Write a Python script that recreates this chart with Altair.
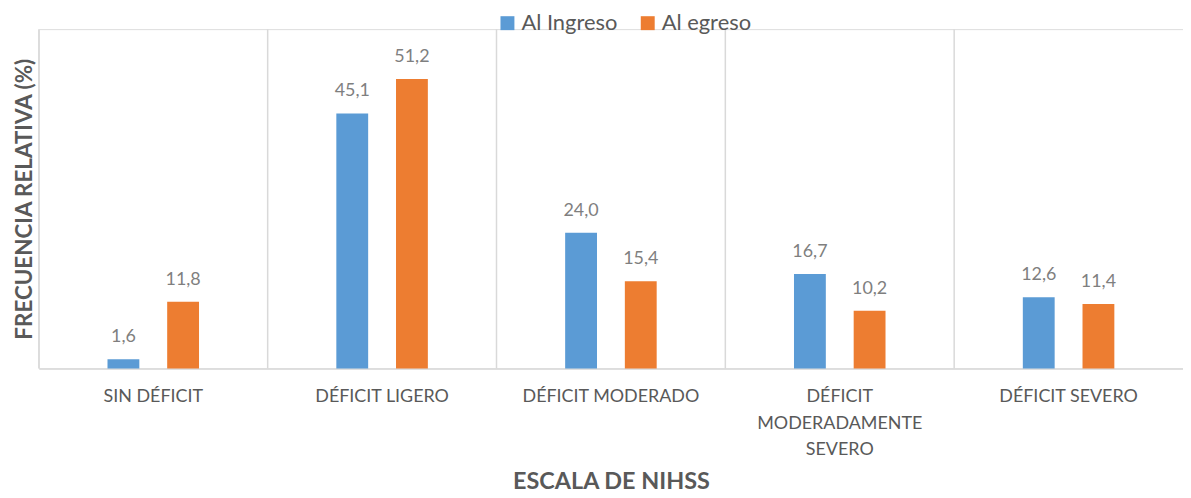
import altair as alt
import pandas as pd

categorias = ["SIN DÉFICIT", "DÉFICIT LIGERO", "DÉFICIT MODERADO",
              "DÉFICIT MODERADAMENTE SEVERO", "DÉFICIT SEVERO"]
series = ["Al Ingreso", "Al egreso"]
al_ingreso = [1.6, 45.1, 24.0, 16.7, 12.6]
al_egreso = [11.8, 51.2, 15.4, 10.2, 11.4]
colores = ["#5B9BD5", "#ED7D31"]

rows = []
for c, a, b in zip(categorias, al_ingreso, al_egreso):
    rows.append({"cat": c, "serie": series[0], "val": a})
    rows.append({"cat": c, "serie": series[1], "val": b})
df = pd.DataFrame(rows)
df["lab"] = df["val"].map(lambda v: f"{v:.1f}".replace(".", ","))

FONT = "Lato"
GRAY = "#595959"

xscale = alt.Scale(domain=categorias, paddingInner=0, paddingOuter=0)
xoff = alt.XOffset("serie:N", sort=series,
                   scale=alt.Scale(domain=series, paddingInner=0, paddingOuter=0.917))
yscale = alt.Scale(domain=[0, 60], nice=False)

label_expr = ("datum.label == 'DÉFICIT MODERADAMENTE SEVERO' ? "
              "['DÉFICIT', 'MODERADAMENTE', 'SEVERO'] : datum.label")

x_axis = alt.Axis(title="ESCALA DE NIHSS", labelAngle=0, ticks=False, grid=False,
                  domainColor="#d9d9d9", domainWidth=1.5,
                  labelFont=FONT, labelFontSize=18, labelColor=GRAY,
                  labelPadding=19, labelLineHeight=27, labelExpr=label_expr,
                  labelLimit=300,
                  titleFont=FONT, titleFontSize=23.5, titleFontWeight="bold",
                  titleColor=GRAY, titleBaseline="alphabetic", titleY=121)

y_axis = alt.Axis(title="FRECUENCIA RELATIVA (%)", labels=False, ticks=False,
                  domain=False, grid=False,
                  titleFont=FONT, titleFontSize=22.5, titleFontWeight="bold",
                  titleColor=GRAY, titlePadding=2)

base = alt.Chart(df)

bars = base.mark_bar(width=32).encode(
    x=alt.X("cat:N", sort=categorias, scale=xscale, axis=x_axis),
    xOffset=xoff,
    y=alt.Y("val:Q", scale=yscale, axis=y_axis),
    color=alt.Color("serie:N", sort=series,
                    scale=alt.Scale(domain=series, range=colores),
                    legend=alt.Legend(title=None, orient="none", direction="horizontal",
                                      legendX=460, legendY=-17,
                                      symbolType="square", symbolSize=196,
                                      symbolStrokeWidth=0, labelFont=FONT,
                                      labelFontSize=22, labelColor=GRAY,
                                      labelOffset=3, columnPadding=19)),
)

texts = base.mark_text(baseline="alphabetic", dy=-17, font=FONT, fontSize=18,
                       color="#7f7f7f").encode(
    x=alt.X("cat:N", sort=categorias, scale=xscale, axis=x_axis),
    xOffset=xoff,
    y=alt.Y("val:Q", scale=yscale, axis=y_axis),
    text="lab:N",
)

grid_df = pd.DataFrame({"cat": categorias})
rules = alt.Chart(grid_df).mark_rule(color="#d9d9d9", strokeWidth=1.5).encode(
    x=alt.X("cat:N", sort=categorias, scale=xscale, bandPosition=0, axis=x_axis),
    y=alt.value(0),
    y2=alt.value(341),
)

chart = alt.layer(rules, bars, texts).properties(
    width=1150, height=341,
    autosize=alt.AutoSizeParams(type="none"),
    padding={"left": 31, "top": 20, "right": 0, "bottom": 127},
).configure_view(stroke=None).configure(background="white")

chart.save("out.html", embed_options={"renderer": "svg", "actions": False})
